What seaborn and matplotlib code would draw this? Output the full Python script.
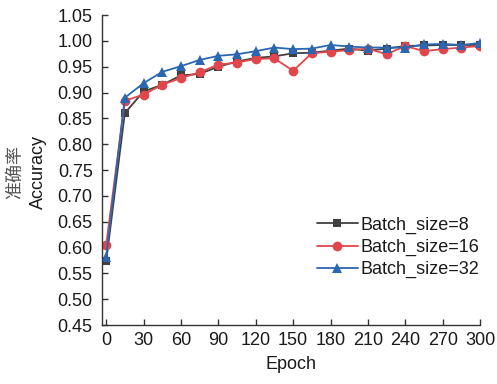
import matplotlib
matplotlib.use("Agg")
import matplotlib.pyplot as plt
import numpy as np
import pandas as pd
import seaborn as sns

# Training accuracy recorded every 15 epochs for three batch sizes
epochs = [0, 15, 30, 45, 60, 75, 90, 105, 120, 135, 150,
          165, 180, 195, 210, 225, 240, 255, 270, 285, 300]
acc_bs8 = [0.573, 0.860, 0.902, 0.915, 0.933, 0.936, 0.950, 0.960, 0.967, 0.970, 0.976,
           0.977, 0.981, 0.985, 0.981, 0.985, 0.990, 0.991, 0.992, 0.992, 0.992]
acc_bs16 = [0.604, 0.884, 0.896, 0.915, 0.928, 0.939, 0.954, 0.958, 0.965, 0.966, 0.942,
            0.976, 0.979, 0.982, 0.985, 0.974, 0.990, 0.980, 0.984, 0.987, 0.990]
acc_bs32 = [0.582, 0.890, 0.918, 0.940, 0.951, 0.963, 0.971, 0.974, 0.980, 0.987, 0.984,
            0.985, 0.992, 0.989, 0.987, 0.987, 0.987, 0.993, 0.994, 0.992, 0.996]
series_names = ["Batch_size=8", "Batch_size=16", "Batch_size=32"]

df = pd.DataFrame({
    "Epoch": epochs * 3,
    "Accuracy": acc_bs8 + acc_bs16 + acc_bs32,
    "Series": [s for s in series_names for _ in epochs],
})

sns.set_style("ticks")
plt.rcParams["font.family"] = ["Liberation Sans", "Noto Sans CJK SC", "DejaVu Sans"]

palette = {"Batch_size=8": "#404040", "Batch_size=16": "#e0474c", "Batch_size=32": "#2b66b1"}
markers = {"Batch_size=8": "s", "Batch_size=16": "o", "Batch_size=32": "^"}
marker_sizes = {"Batch_size=8": 6, "Batch_size=16": 7, "Batch_size=32": 7.5}

fig = plt.figure(figsize=(4.97, 3.84), dpi=100)
ax = fig.add_axes([0.206, 0.1536, 0.760, 0.8073])

sns.lineplot(data=df, x="Epoch", y="Accuracy", hue="Series", style="Series",
             palette=palette, markers=markers, dashes=False, markersize=7,
             markeredgewidth=0, linewidth=1.3, ax=ax)
for line, name in zip(ax.get_lines(), series_names):
    line.set_markersize(marker_sizes[name])

ax.set_xlim(-3, 300)
ax.set_ylim(0.45, 1.05)
ax.set_xticks(np.arange(0, 301, 30))
ax.set_yticks(np.arange(0.45, 1.0501, 0.05))
ax.set_yticklabels([f"{v:.2f}" for v in np.arange(0.45, 1.0501, 0.05)])

for side in ("top", "right"):
    ax.spines[side].set_visible(False)
for side in ("left", "bottom"):
    ax.spines[side].set_color("#333333")
    ax.spines[side].set_linewidth(1.0)

ax.tick_params(axis="both", direction="in", length=4, width=1.0, color="#333333",
               labelsize=13, labelcolor="#1a1a1a")
ax.tick_params(axis="y", pad=7)
ax.tick_params(axis="x", pad=5)

ax.set_xlabel("Epoch", fontsize=13, color="#1a1a1a", labelpad=5)
ax.set_ylabel("")
fig.text(0.031, 0.552, "准确率", rotation=90, fontsize=13, color="#555555",
         ha="center", va="center", family=["Noto Sans CJK SC"])
fig.text(0.077, 0.552, "Accuracy", rotation=90, fontsize=13, color="#1a1a1a",
         ha="center", va="center")

handles, labels = ax.get_legend_handles_labels()
for h, name in zip(handles, labels):
    h.set_markersize(marker_sizes.get(name, 7))
leg = ax.legend(handles, labels, loc="center left", bbox_to_anchor=(0.524, 0.25),
                frameon=False, fontsize=13, handlelength=2.3, handletextpad=0.15,
                labelspacing=0.28)
for t in leg.get_texts():
    t.set_color("#1a1a1a")

fig.savefig("out.png", dpi=100)
